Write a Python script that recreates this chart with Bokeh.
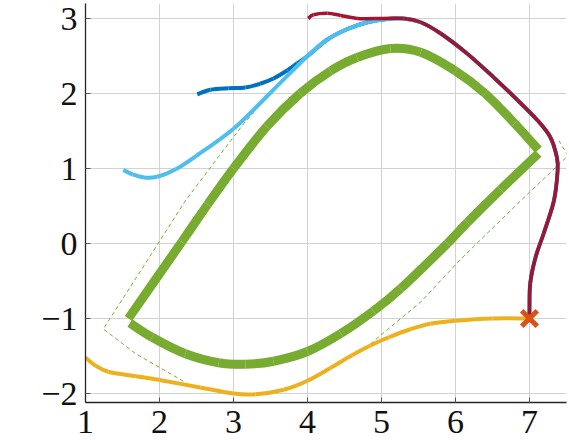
import numpy as np
from bokeh.plotting import figure
from bokeh.models import Range1d, FixedTicker
from bokeh.embed import file_html
from bokeh.resources import INLINE

# ---- data ----
x_ticks = [1, 2, 3, 4, 5, 6, 7]
y_ticks = [-2, -1, 0, 1, 2, 3]
x_tick_labels = ["1", "2", "3", "4", "5", "6", "7"]
y_tick_labels = ["−2", "−1", "0", "1", "2", "3"]

# green closed shape (upper and lower branches)
green_upper_x = [1.58, 2.3, 2.65, 3.0, 3.45, 3.9, 4.31, 4.67, 5.12, 5.53, 6.0, 6.4, 6.8, 7.12]
green_upper_y = [-1.0, 0.02, 0.52, 1.0, 1.56, 2.0, 2.3, 2.48, 2.6, 2.55, 2.3, 2.0, 1.6, 1.25]
green_lower_x = [1.6, 1.9, 2.35, 2.8, 3.16, 3.54, 4.0, 4.45, 4.89, 5.26, 5.89, 6.16, 6.61, 7.12]
green_lower_y = [-1.06, -1.25, -1.47, -1.59, -1.61, -1.57, -1.44, -1.2, -0.9, -0.6, 0.0, 0.28, 0.72, 1.2]

# dashed tube (visible parts)
tube_a_x = [3.33, 3.26, 3.14, 2.8, 2.35, 1.8, 1.24, 1.68, 2.31, 2.4]
tube_a_y = [1.84, 1.73, 1.6, 1.16, 0.57, -0.28, -1.14, -1.47, -1.83, -1.89]
tube_b_x = [4.85, 5.26, 5.53, 6.07, 6.88, 7.52, 7.40]
tube_b_y = [-1.34, -1.0, -0.78, -0.21, 0.57, 1.17, 1.37]

# trajectories
blue_x = [2.51, 2.69, 2.93, 3.16, 3.36, 3.54, 3.73, 3.86, 4.0, 4.27, 4.54, 4.81, 5.05, 5.3,
          5.53, 5.8, 6.16, 6.51, 6.84, 7.11, 7.28, 7.37, 7.38, 7.33, 7.19, 7.08, 7.01, 7.0, 7.0]
blue_y = [1.99, 2.05, 2.07, 2.08, 2.13, 2.2, 2.31, 2.4, 2.5, 2.72, 2.86, 2.95, 2.99, 3.0,
          2.95, 2.8, 2.53, 2.22, 1.91, 1.64, 1.42, 1.15, 0.97, 0.57, 0.13, -0.19, -0.53, -0.85, -1.0]
lightblue_x = [1.51, 1.64, 1.79, 1.97, 2.22, 2.5, 3.0, 3.5, 4.0, 4.27, 4.54, 4.81, 5.05, 5.3, 5.53]
lightblue_y = [0.98, 0.92, 0.88, 0.89, 0.99, 1.17, 1.53, 2.01, 2.5, 2.72, 2.86, 2.95, 2.99, 3.0, 2.95]
red_x = [4.01, 4.08, 4.27, 4.45, 4.68, 4.9, 5.3, 5.53, 5.8, 6.16, 6.51, 6.84, 7.11, 7.28, 7.37,
         7.38, 7.33, 7.19, 7.08, 7.01, 7.0, 7.0]
red_y = [3.0, 3.05, 3.07, 3.04, 3.0, 3.0, 3.0, 2.95, 2.8, 2.53, 2.22, 1.91, 1.64, 1.42, 1.15,
         0.97, 0.57, 0.13, -0.19, -0.53, -0.85, -1.0]
yellow_x = [1.0, 1.14, 1.31, 1.68, 2.0, 2.55, 3.0, 3.3, 3.68, 4.0, 4.31, 4.6, 4.85, 5.1, 5.4,
            5.66, 6.0, 6.5, 7.0]
yellow_y = [-1.52, -1.63, -1.71, -1.77, -1.82, -1.92, -2.0, -2.01, -1.95, -1.83, -1.66, -1.49, -1.36,
            -1.25, -1.14, -1.07, -1.03, -1.0, -1.0]
end_x = [7.0]
end_y = [-1.0]

GREEN = "#77AC30"
BLUE = "#0072BD"
LIGHTBLUE = "#4DBEEE"
RED = "#A2142F"
YELLOW = "#EDB120"
ORANGE = "#D95319"

p = figure(width=569, height=440, x_range=Range1d(1, 7.5), y_range=Range1d(-2.12, 3.2),
           output_backend="svg", toolbar_location=None,
           min_border_left=85, min_border_right=3, min_border_top=3, min_border_bottom=38)
p.outline_line_color = None
p.background_fill_color = "white"
p.border_fill_color = "white"

for ax, ticks, labels in ((p.xaxis, x_ticks, x_tick_labels), (p.yaxis, y_ticks, y_tick_labels)):
    ax.ticker = FixedTicker(ticks=ticks)
    ax.major_label_overrides = {t: l for t, l in zip(ticks, labels)}
    ax.major_label_text_font = "Liberation Serif"
    ax.major_label_text_font_size = "34px"
    ax.major_label_text_color = "#111111"
    ax.axis_line_color = "#262626"
    ax.axis_line_width = 1.3
    ax.major_tick_in = 5
    ax.major_tick_out = 0
    ax.major_tick_line_color = "#555555"
    ax.minor_tick_line_color = None
p.xaxis.major_label_standoff = 8
p.yaxis.major_label_standoff = 8

p.xgrid.ticker = FixedTicker(ticks=x_ticks)
p.ygrid.ticker = FixedTicker(ticks=y_ticks)
p.grid.grid_line_color = "#d2d2d2"
p.grid.grid_line_width = 1


def smooth_curve(xs, ys, **kw):
    """Draw a smooth curve through the read points with Bezier segments."""
    P = np.column_stack([xs, ys]).astype(float)
    prev = np.vstack([P[:1], P[:-1]])
    nxt = np.vstack([P[1:], P[-1:]])
    tang = (nxt - prev) / 6.0
    a, b = P[:-1], P[1:]
    c0 = a + tang[:-1]
    c1 = b - tang[1:]
    p.bezier(x0=a[:, 0], y0=a[:, 1], x1=b[:, 0], y1=b[:, 1],
             cx0=c0[:, 0], cy0=c0[:, 1], cx1=c1[:, 0], cy1=c1[:, 1], **kw)


p.line(tube_a_x, tube_a_y, line_color=GREEN, line_width=1, line_dash="4 3")
p.line(tube_b_x, tube_b_y, line_color=GREEN, line_width=1, line_dash="4 3")
smooth_curve(green_upper_x, green_upper_y, line_color=GREEN, line_width=9)
smooth_curve(green_lower_x, green_lower_y, line_color=GREEN, line_width=9)
smooth_curve(blue_x, blue_y, line_color=BLUE, line_width=4)
smooth_curve(lightblue_x, lightblue_y, line_color=LIGHTBLUE, line_width=4)
smooth_curve(red_x, red_y, line_color=RED, line_width=3.5)
smooth_curve(yellow_x, yellow_y, line_color=YELLOW, line_width=4)
p.scatter(end_x, end_y, marker="x", size=22, line_width=5, line_color=ORANGE)

open("out.html", "w").write(file_html(p, INLINE))
